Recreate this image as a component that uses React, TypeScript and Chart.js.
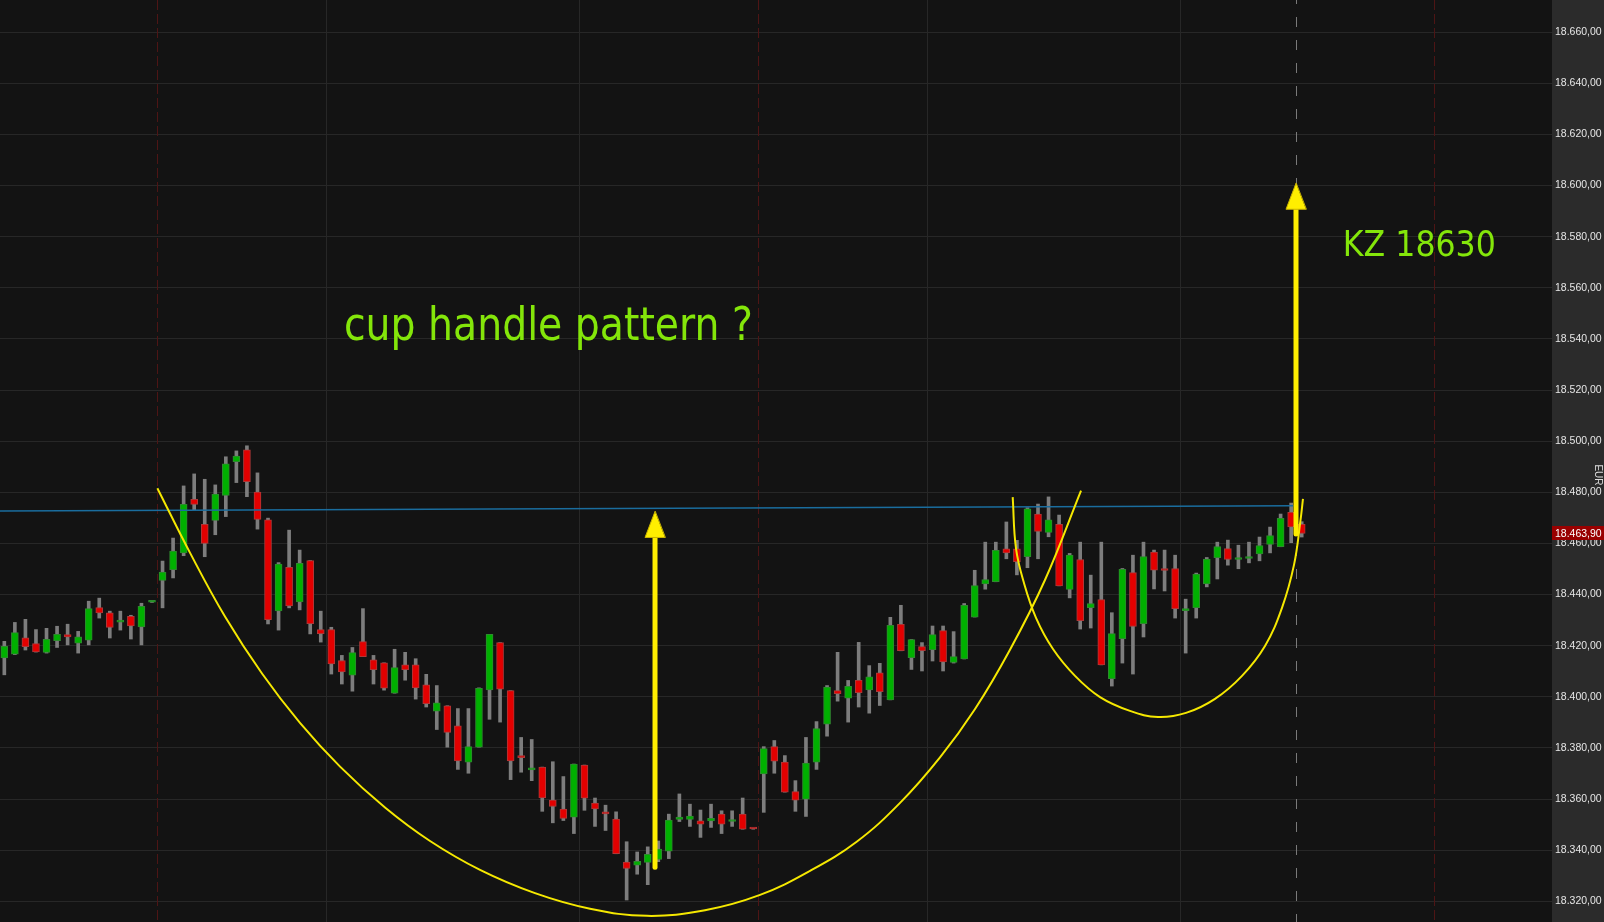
import React, { useEffect, useRef } from 'react';
import { Chart, registerables } from 'chart.js';

Chart.register(...registerables);

// ---- candle data (bar index 0..123) ----
const opens = [
  18415.2, 18416.7, 18423.1, 18420.8, 18417.4, 18422.0, 18424.3, 18421.0, 18422.2, 18434.9,
  18432.9, 18429.2, 18431.5, 18427.3, 18437.0, 18445.5, 18449.7, 18456.3, 18477.3, 18467.5,
  18469.0, 18478.8, 18492.0, 18496.6, 18480.1, 18469.2, 18433.6, 18450.7, 18437.1, 18453.3,
  18426.3, 18426.3, 18414.2, 18408.5, 18421.6, 18414.5, 18413.3, 18401.4, 18412.5, 18412.5,
  18404.7, 18394.4, 18396.5, 18388.6, 18374.4, 18380.3, 18402.7, 18421.2, 18402.4, 18376.4,
  18371.4, 18372.5, 18359.6, 18356.1, 18352.9, 18373.3, 18358.4, 18354.4, 18352.2, 18335.3,
  18334.1, 18335.2, 18336.4, 18339.6, 18352.0, 18352.0, 18351.5, 18351.4, 18354.1, 18351.2,
  18354.1, 18348.5, 18369.8, 18380.5, 18374.5, 18362.9, 18360.0, 18374.4, 18389.3, 18402.4,
  18399.5, 18406.4, 18402.7, 18409.4, 18398.8, 18428.4, 18415.3, 18419.6, 18418.4, 18425.9,
  18413.5, 18414.8, 18431.2, 18444.2, 18445.0, 18457.9, 18457.9, 18454.8, 18471.5, 18464.3,
  18467.5, 18442.0, 18453.7, 18434.9, 18438.0, 18407.1, 18422.7, 18448.6, 18428.6, 18456.6,
  18450.2, 18450.2, 18433.7, 18434.9, 18444.2, 18454.4, 18458.0, 18453.7, 18454.1, 18455.9,
  18459.6, 18458.7, 18472.2, 18467.5,
];
const highs = [
  18421.7, 18429.1, 18430.3, 18426.3, 18426.8, 18427.6, 18428.4, 18425.6, 18437.4, 18438.6,
  18433.5, 18433.5, 18431.9, 18436.6, 18437.3, 18453.1, 18462.1, 18482.5, 18487.2, 18485.1,
  18482.9, 18493.9, 18496.2, 18498.2, 18487.6, 18469.9, 18452.5, 18465.2, 18457.4, 18453.3,
  18433.5, 18427.2, 18416.2, 18419.3, 18434.5, 18416.2, 18413.3, 18418.6, 18417.4, 18414.9,
  18408.8, 18404.4, 18396.5, 18395.4, 18395.4, 18403.5, 18424.4, 18421.2, 18402.4, 18384.1,
  18383.3, 18372.5, 18374.6, 18368.8, 18373.7, 18373.3, 18360.4, 18357.6, 18355.0, 18343.3,
  18339.3, 18341.3, 18343.6, 18354.1, 18362.0, 18358.0, 18355.7, 18358.0, 18355.4, 18355.4,
  18360.4, 18348.6, 18380.5, 18382.9, 18377.0, 18367.2, 18384.1, 18390.3, 18404.4, 18417.4,
  18406.4, 18421.3, 18412.2, 18413.1, 18431.1, 18435.8, 18422.4, 18421.2, 18427.7, 18427.7,
  18425.5, 18436.5, 18449.5, 18460.5, 18460.5, 18468.4, 18461.2, 18474.0, 18475.4, 18478.2,
  18471.1, 18456.1, 18460.5, 18447.6, 18460.5, 18432.9, 18450.2, 18455.4, 18460.5, 18457.4,
  18457.4, 18455.4, 18438.2, 18448.4, 18454.5, 18460.5, 18461.3, 18459.3, 18460.5, 18462.5,
  18466.4, 18471.5, 18475.8, 18468.5,
];
const lows = [
  18408.6, 18416.5, 18418.3, 18417.5, 18417.1, 18419.3, 18420.3, 18417.1, 18420.3, 18430.8,
  18423.0, 18426.1, 18422.6, 18420.3, 18436.9, 18434.8, 18446.5, 18455.2, 18473.2, 18454.8,
  18463.4, 18470.5, 18483.8, 18478.3, 18465.6, 18428.5, 18426.1, 18434.8, 18434.0, 18424.6,
  18421.4, 18408.9, 18405.0, 18402.2, 18415.7, 18405.0, 18402.6, 18401.4, 18406.5, 18399.1,
  18396.0, 18387.2, 18380.3, 18371.6, 18370.1, 18380.3, 18391.2, 18390.1, 18367.6, 18370.5,
  18367.2, 18355.2, 18350.7, 18351.6, 18346.5, 18355.6, 18349.3, 18347.7, 18338.6, 18320.5,
  18330.6, 18326.5, 18335.5, 18336.7, 18351.2, 18349.3, 18345.0, 18348.9, 18346.5, 18349.3,
  18348.2, 18348.2, 18354.8, 18370.1, 18362.7, 18355.2, 18353.2, 18371.6, 18384.6, 18398.3,
  18390.1, 18396.0, 18393.6, 18396.6, 18398.8, 18418.0, 18410.7, 18410.1, 18414.0, 18410.1,
  18413.2, 18414.8, 18431.2, 18442.1, 18445.0, 18454.0, 18447.7, 18450.5, 18454.0, 18462.6,
  18443.4, 18438.7, 18426.5, 18426.9, 18412.5, 18404.2, 18413.2, 18408.9, 18423.4, 18442.2,
  18441.4, 18430.8, 18417.1, 18430.8, 18443.0, 18446.1, 18451.5, 18450.1, 18452.4, 18453.2,
  18456.3, 18458.7, 18460.3, 18462.5,
];
const closes = [
  18419.7, 18425.1, 18419.6, 18417.6, 18422.5, 18424.4, 18423.4, 18423.5, 18434.5, 18432.8,
  18427.1, 18429.4, 18427.7, 18435.4, 18437.2, 18448.8, 18457.0, 18475.3, 18475.3, 18460.0,
  18479.3, 18491.1, 18494.2, 18484.2, 18469.4, 18430.2, 18451.9, 18435.6, 18452.2, 18428.6,
  18424.7, 18412.9, 18409.7, 18417.3, 18415.7, 18410.6, 18403.4, 18411.4, 18410.6, 18403.5,
  18397.3, 18397.6, 18386.1, 18374.9, 18380.5, 18403.3, 18424.4, 18403.0, 18374.9, 18376.2,
  18371.6, 18360.4, 18357.1, 18352.4, 18373.7, 18360.3, 18356.1, 18354.2, 18338.6, 18332.9,
  18335.6, 18338.4, 18340.4, 18351.8, 18352.9, 18353.3, 18350.2, 18352.5, 18350.2, 18351.4,
  18348.2, 18348.3, 18379.7, 18374.8, 18362.7, 18359.6, 18374.1, 18387.6, 18403.8, 18401.2,
  18404.1, 18401.6, 18407.8, 18402.0, 18428.0, 18418.0, 18422.4, 18418.0, 18424.3, 18413.6,
  18415.7, 18435.8, 18443.5, 18445.9, 18457.3, 18456.3, 18452.9, 18473.5, 18464.7, 18469.2,
  18443.4, 18455.4, 18429.8, 18436.5, 18412.5, 18424.7, 18449.9, 18427.5, 18454.9, 18449.5,
  18449.4, 18434.5, 18434.1, 18448.0, 18453.9, 18458.8, 18453.7, 18454.1, 18454.5, 18459.2,
  18463.1, 18469.8, 18466.5, 18463.9,
];

// ---- axis ----
const yTicks = [
  18320, 18340, 18360, 18380, 18400, 18420, 18440, 18460, 18480, 18500,
  18520, 18540, 18560, 18580, 18600, 18620, 18640, 18660,
];
const lastPrice = 18463.9;
const axisUnit = 'EUR';

// ---- drawings (bar index, price) ----
const cupX = [14.51, 17.61, 20.92, 24.43, 28.03, 31.83, 36.09, 40.36, 45.1, 50.31, 55.53, 60.93, 66.43, 71.65, 76.39, 80.84, 84.92, 88.71, 92.03, 95.33, 98.66, 102.08];
const cupY = [18481.6, 18456.3, 18431.4, 18409.1, 18389.8, 18372.7, 18356.7, 18343.6, 18332.3, 18323.2, 18317.1, 18314.3, 18316.5, 18322.5, 18331.9, 18343.4, 18358.5, 18376.3, 18395.2, 18418.3, 18445.7, 18480.7];
const handleX = [95.6, 95.91, 96.67, 97.81, 99.42, 101.51, 103.88, 106.72, 109.38, 112.03, 114.78, 117.34, 119.52, 121.13, 122.27, 122.89, 123.12];
const handleY = [18478.1, 18458.2, 18444.5, 18430.9, 18418.7, 18408.2, 18399.9, 18394.5, 18392.1, 18393.7, 18399.2, 18408.2, 18419.9, 18434.8, 18451.6, 18469.2, 18477.4];
const resistanceX = [-0.41, 122.2];
const resistanceY = [18472.7, 18474.7];
const arrowX = [61.69, 122.46];
const arrowFrom = [18333.3, 18463.7];
const arrowTo = [18472.5, 18600.9];
const sessionLines = [14.5, 71.5, 135.5];
const dayLines = [30.5, 54.5, 87.5, 111.5];
const cursorIndex = 122.46;
const notes = ['cup handle pattern ?', 'KZ 18630'];
const noteX = [32.2, 126.9];
const noteY = [18539.6, 18572.5];

const fmt = (v: number, d = 2) => {
  const [i, f] = v.toFixed(d).split('.');
  return i.replace(/\B(?=(\d{3})+(?!\d))/g, '.') + ',' + f;
};

const GREEN = '#00b000';
const RED = '#e30000';

export default function App() {
  const ref = useRef<HTMLCanvasElement | null>(null);

  useEffect(() => {
    document.body.style.margin = '0';
    document.body.style.background = '#131313';
    const canvas = ref.current!;
    const idx = opens.map((_, i) => i);
    const up = idx.map((i) => closes[i] >= opens[i]);

    const overlay = {
      id: 'overlay',
      beforeDraw(chart: any) {
        const { ctx, chartArea: a, width, height } = chart;
        ctx.save();
        ctx.fillStyle = '#131313';
        ctx.fillRect(0, 0, a.right, height);
        ctx.fillStyle = '#2b2b2b';
        ctx.fillRect(a.right, 0, width - a.right, height);
        ctx.restore();
      },
      beforeDatasetsDraw(chart: any) {
        const { ctx, chartArea: a, scales } = chart;
        const xs = scales.x;
        ctx.save();
        ctx.lineWidth = 1;
        ctx.strokeStyle = '#272727';
        dayLines.forEach((v) => {
          const x = Math.round(xs.getPixelForValue(v)) + 0.5;
          ctx.beginPath();
          ctx.moveTo(x, a.top);
          ctx.lineTo(x, a.bottom);
          ctx.stroke();
        });
        ctx.strokeStyle = '#4e1515';
        ctx.setLineDash([10, 4]);
        sessionLines.forEach((v) => {
          const x = Math.round(xs.getPixelForValue(v)) + 0.5;
          ctx.beginPath();
          ctx.moveTo(x, a.top);
          ctx.lineTo(x, a.bottom);
          ctx.stroke();
        });
        ctx.strokeStyle = '#7a7a7a';
        ctx.setLineDash([10, 13]);
        ctx.lineDashOffset = 6;
        const cx = Math.round(xs.getPixelForValue(cursorIndex)) + 0.5;
        ctx.beginPath();
        ctx.moveTo(cx, a.top);
        ctx.lineTo(cx, a.bottom);
        ctx.stroke();
        ctx.restore();
      },
      afterDatasetsDraw(chart: any) {
        const { ctx, scales } = chart;
        const xs = scales.x;
        const ys = scales.y;
        ctx.save();
        arrowX.forEach((v, i) => {
          const x = xs.getPixelForValue(v);
          const y0 = ys.getPixelForValue(arrowFrom[i]);
          const y1 = ys.getPixelForValue(arrowTo[i]);
          const headH = 26;
          const headW = 20;
          ctx.strokeStyle = '#ffee00';
          ctx.lineWidth = 5;
          ctx.lineCap = 'round';
          ctx.beginPath();
          ctx.moveTo(x, y0);
          ctx.lineTo(x, y1 + headH - 2);
          ctx.stroke();
          ctx.beginPath();
          ctx.moveTo(x, y1);
          ctx.lineTo(x - headW / 2, y1 + headH);
          ctx.lineTo(x + headW / 2, y1 + headH);
          ctx.closePath();
          ctx.fillStyle = '#ffee00';
          ctx.fill();
          ctx.lineWidth = 1;
          ctx.strokeStyle = '#c9b300';
          ctx.stroke();
        });
        const sizes = [47, 35.5];
        const widths = [409, 153];
        notes.forEach((t, i) => {
          ctx.save();
          ctx.font = `${sizes[i]}px "DejaVu Sans"`;
          const w = ctx.measureText(t).width;
          ctx.translate(xs.getPixelForValue(noteX[i]), ys.getPixelForValue(noteY[i]));
          ctx.scale(widths[i] / w, 1);
          ctx.fillStyle = '#84e60a';
          ctx.textAlign = 'left';
          ctx.textBaseline = 'alphabetic';
          ctx.fillText(t, 0, 0);
          ctx.restore();
        });
        ctx.restore();
      },
      afterDraw(chart: any) {
        const { ctx, chartArea: a, width, scales } = chart;
        const y = scales.y.getPixelForValue(lastPrice);
        ctx.save();
        ctx.fillStyle = '#990000';
        ctx.fillRect(a.right, Math.round(y - 7), width - a.right, 14);
        ctx.fillStyle = '#ffffff';
        ctx.font = '10.5px "Liberation Sans", Arial, sans-serif';
        ctx.textBaseline = 'middle';
        ctx.textAlign = 'left';
        ctx.fillText(fmt(lastPrice), a.right + 3, y + 0.5);
        ctx.fillStyle = '#dcdcdc';
        ctx.font = '10px "Liberation Sans", Arial, sans-serif';
        ctx.translate(width - 6, 475);
        ctx.rotate(Math.PI / 2);
        ctx.textAlign = 'center';
        ctx.fillText(axisUnit, 0, 0);
        ctx.restore();
      },
    };

    const chart = new Chart(canvas, {
      type: 'bar',
      data: {
        datasets: [
          {
            type: 'line',
            data: cupX.map((x, i) => ({ x, y: cupY[i] })),
            borderColor: '#f5e800',
            borderWidth: 2,
            pointRadius: 0,
            tension: 0.4,
            order: 0,
          } as any,
          {
            type: 'line',
            data: handleX.map((x, i) => ({ x, y: handleY[i] })),
            borderColor: '#f5e800',
            borderWidth: 2,
            pointRadius: 0,
            tension: 0.4,
            order: 0,
          } as any,
          {
            type: 'line',
            data: resistanceX.map((x, i) => ({ x, y: resistanceY[i] })),
            borderColor: '#1a6d9e',
            borderWidth: 1.5,
            pointRadius: 0,
            order: 1,
          } as any,
          {
            type: 'bar',
            data: idx.map((i) => ({ x: i, y: [Math.min(opens[i], closes[i]), Math.max(opens[i], closes[i])] })),
            backgroundColor: up.map((u) => (u ? GREEN : RED)),
            borderColor: up.map((u) => (u ? '#2f8a2f' : '#b03838')),
            borderWidth: 1,
            borderSkipped: false,
            barThickness: 7,
            minBarLength: 2,
            grouped: false,
            order: 2,
          } as any,
          {
            type: 'bar',
            data: idx.map((i) => ({ x: i, y: [lows[i], highs[i]] })),
            backgroundColor: '#7d7d7d',
            borderWidth: 0,
            barThickness: 3,
            grouped: false,
            order: 3,
          } as any,
        ],
      },
      options: {
        animation: false,
        responsive: false,
        maintainAspectRatio: false,
        layout: { padding: 0 },
        plugins: { legend: { display: false }, tooltip: { enabled: false } },
        scales: {
          x: {
            type: 'linear',
            display: false,
            min: -0.41,
            max: 146.73,
            offset: false,
            grid: { display: false, offset: false },
          },
          y: {
            type: 'linear',
            position: 'right',
            min: 18311.9,
            max: 18672.6,
            border: { display: false },
            grid: { color: '#272727', lineWidth: 1, drawTicks: false },
            afterBuildTicks: (scale: any) => {
              scale.ticks = yTicks.map((v) => ({ value: v }));
            },
            afterFit: (scale: any) => {
              scale.width = 52;
              scale.paddingTop = 0;
              scale.paddingBottom = 0;
            },
            ticks: {
              padding: 3,
              color: '#e6e6e6',
              autoSkip: false,
              font: { family: '"Liberation Sans", Arial, sans-serif', size: 10.5 },
              callback: (v: any) => fmt(Number(v)),
            },
          },
        },
      } as any,
      plugins: [overlay],
    });
    return () => chart.destroy();
  }, []);

  return (
    <div style={{ position: 'fixed', left: 0, top: 0, width: 1604, height: 922, background: '#131313' }}>
      <canvas ref={ref} width={1604} height={922} style={{ display: 'block', width: 1604, height: 922 }} />
    </div>
  );
}
